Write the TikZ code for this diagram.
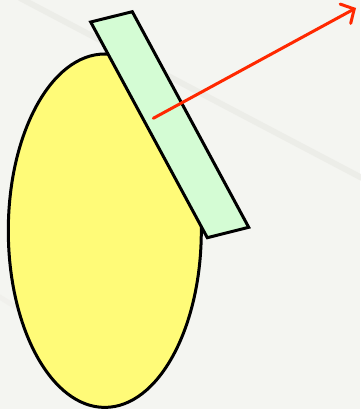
\documentclass[tikz,border=0pt]{standalone}
\usetikzlibrary{arrows.meta}
\definecolor{bgc}{RGB}{244,245,241}
\definecolor{streak}{RGB}{234,234,229}
\definecolor{eggyellow}{RGB}{255,251,120}
\definecolor{platec}{RGB}{212,252,212}
\definecolor{arrred}{RGB}{255,40,0}
\tikzset{
  outline/.style={draw=black, line width=3pt, line join=miter},
  redarrow/.style={draw=arrred, line width=3pt, line cap=round, -{Straight Barb[length=10pt,width=22pt,line cap=round]}}
}
\begin{document}
\begin{tikzpicture}[x=1pt,y=-1pt]
  \fill[bgc] (0,0) rectangle (360,409);
  \useasboundingbox (0,0) rectangle (360,409);
  \draw[streak, line width=6pt, opacity=0.7, line cap=round] (20,-2) -- (362,178);
  \draw[streak, line width=5pt, opacity=0.4] (-2,296) -- (40,322);
  % ellipse
  \draw[outline, fill=eggyellow] (104.8,230.7) ellipse [x radius=96.5, y radius=176.7];
  % plate
  \coordinate (p1) at (90.7,22);
  \coordinate (p2) at (132.3,11.7);
  \coordinate (p3) at (248.7,227.3);
  \coordinate (p4) at (207.3,237.7);
  \draw[outline, fill=platec] (p1) -- (p2) -- (p3) -- (p4) -- cycle;
  % arrow
  \coordinate (a0) at (153.3,118.3);
  \coordinate (a1) at (356,8);
  \draw[redarrow] (a0) -- (a1);
\end{tikzpicture}
\end{document}
